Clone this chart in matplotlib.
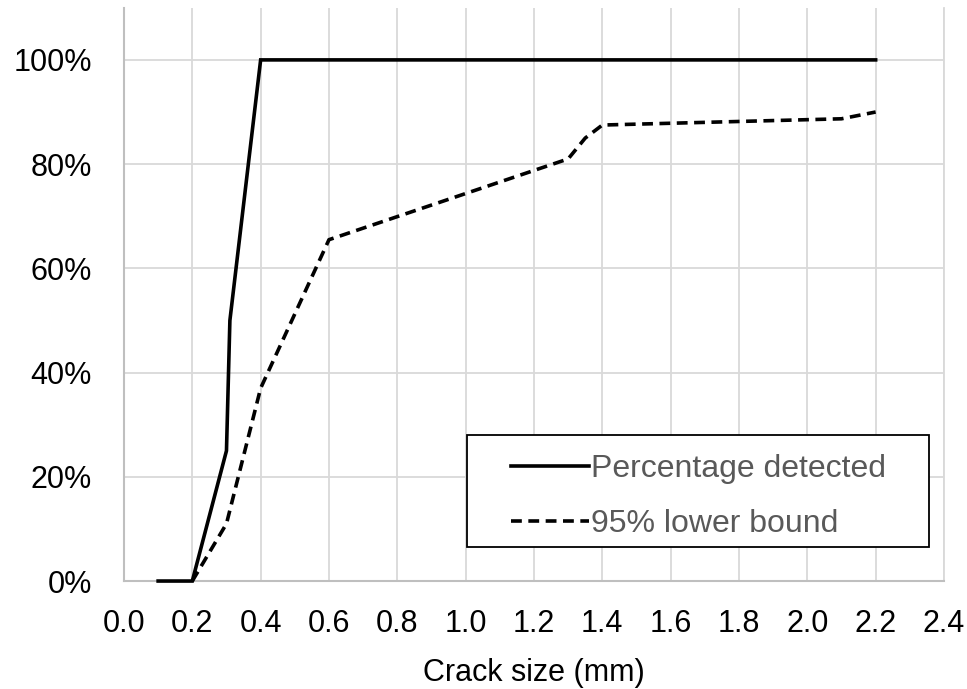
import matplotlib.pyplot as plt
from matplotlib.patches import Rectangle
from matplotlib.ticker import FuncFormatter

# data
crack_size = [0.1, 0.2, 0.3, 0.31, 0.4, 2.2]
detected = [0.0, 0.0, 0.25, 0.50, 1.0, 1.0]

lb_size = [0.2, 0.3, 0.4, 0.6, 1.3, 1.35, 1.4, 2.1, 2.2]
lower_bound = [0.0, 0.11, 0.37, 0.655, 0.81, 0.85, 0.875, 0.887, 0.90]

x_ticks = [0.0, 0.2, 0.4, 0.6, 0.8, 1.0, 1.2, 1.4, 1.6, 1.8, 2.0, 2.2, 2.4]
y_ticks = [0.0, 0.2, 0.4, 0.6, 0.8, 1.0]

plt.rcParams['font.family'] = ['Liberation Sans', 'DejaVu Sans']

fig = plt.figure(figsize=(9.67, 6.89), dpi=100)
ax = fig.add_axes([0.1282, 0.1567, 0.848, 0.832])

grid_c = '#d9d9d9'
ax.plot(crack_size, detected, color='black', lw=2.6, label='Percentage detected',
        solid_joinstyle='miter', clip_on=False, zorder=3)
ax.plot(lb_size, lower_bound, color='black', lw=2.6, ls=(0, (3.0, 1.8)),
        label='95% lower bound', clip_on=False, zorder=3)

ax.set_xlim(0, 2.4)
ax.set_ylim(0, 1.1)
ax.set_xticks(x_ticks)
ax.set_yticks(y_ticks)
ax.xaxis.set_major_formatter(FuncFormatter(lambda v, p: f'{v:.1f}'))
ax.yaxis.set_major_formatter(FuncFormatter(lambda v, p: f'{v * 100:.0f}%'))
ax.tick_params(axis='both', length=0, labelsize=22)
ax.tick_params(axis='y', pad=23)
ax.tick_params(axis='x', pad=20)

ax.grid(True, color=grid_c, lw=1.3, zorder=0)
ax.set_axisbelow(True)
ax.spines['top'].set_visible(False)
ax.spines['right'].set_color(grid_c)
ax.spines['right'].set_linewidth(1.3)
for s in ['left', 'bottom']:
    ax.spines[s].set_color('#bfbfbf')
    ax.spines[s].set_linewidth(1.5)

ax.set_xlabel('Crack size (mm)', fontsize=22, labelpad=14)

# legend frame drawn separately (Excel-like wide padding)
ax.add_patch(Rectangle((0.418, 0.0593), 0.564, 0.196, transform=ax.transAxes,
                       facecolor='white', edgecolor='black', lw=1.3, zorder=4))
leg = ax.legend(loc='center left', bbox_to_anchor=(0.472, 0.147), fontsize=23,
                frameon=False, handlelength=2.45, handletextpad=0.05,
                borderpad=0, labelspacing=0.78, borderaxespad=0)
leg.set_zorder(5)
for t in leg.get_texts():
    t.set_color('#595959')

fig.savefig('out.png', dpi=100)
